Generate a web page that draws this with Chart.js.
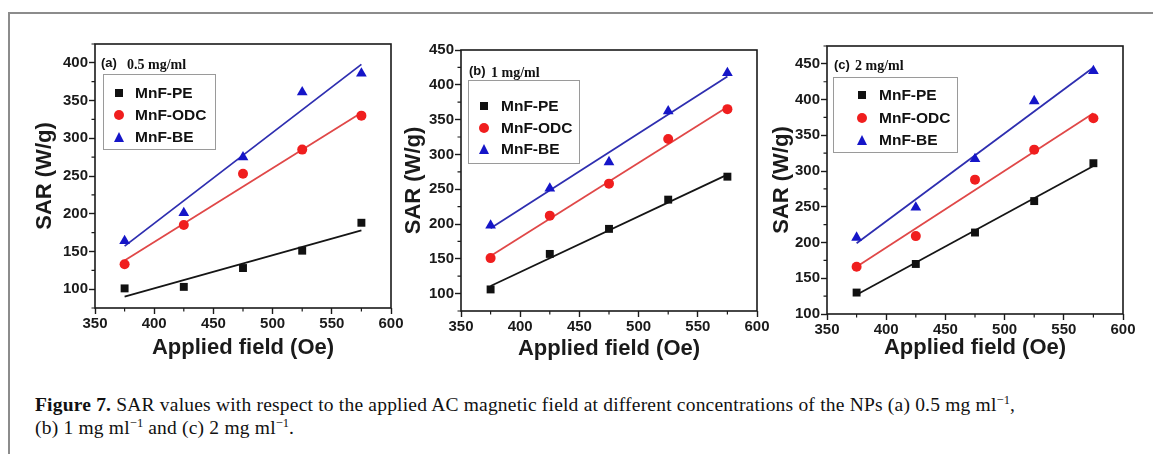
<!DOCTYPE html>
<html>
<head>
<meta charset="utf-8">
<script src="https://cdn.jsdelivr.net/npm/chart.js@4.4.1/dist/chart.umd.min.js"></script>
<style>
  body { margin: 0; background: #fff; width: 1153px; height: 454px; overflow: hidden; position: relative; font-family: "Liberation Sans", Arial, sans-serif; }
  #frame { position: absolute; left: 8px; top: 12px; width: 1150px; height: 450px; border-top: 2px solid #8c8c8c; border-left: 2px solid #8c8c8c; }
  canvas { position: absolute; }
  .legend { position: absolute; border: 1px solid #9a9a9a; background: #fff; }
  .entry { position: absolute; font: bold 15.5px "Liberation Sans", Arial, sans-serif; color: #111; line-height: 18px; }
  .mk { position: absolute; }
  .sq { width: 8px; height: 8px; background: #111; }
  .ci { width: 10px; height: 10px; border-radius: 50%; background: #f01e1e; }
  .tr { width: 0; height: 0; border-left: 5.5px solid transparent; border-right: 5.5px solid transparent; border-bottom: 10px solid #1515c8; }
  .tag { position: absolute; font: bold 13px "Liberation Sans", Arial, sans-serif; color: #111; }
  .conc { position: absolute; font: bold 14px "Liberation Serif", "Times New Roman", serif; color: #111; }
  #caption { position: absolute; left: 35px; top: 393px; font: 19.5px "Liberation Serif", "Times New Roman", serif; line-height: 23px; color: #111; letter-spacing: 0.2px; white-space: nowrap; }
  #caption sup { font-size: 12.5px; line-height: 0; letter-spacing: 0; }
</style>
</head>
<body>
<div id="frame"></div>
<div id="caption"><b>Figure 7.</b> SAR values with respect to the applied AC magnetic field at different concentrations of the NPs (a) 0.5 mg ml<sup>−1</sup>,<br>(b) 1 mg ml<sup>−1</sup> and (c) 2 mg ml<sup>−1</sup>.</div>
<script>
// applied field (Oe)
const fields = [375, 425, 475, 525, 575];
const fitFields = [375, 575];
const seriesNames = ['MnF-PE', 'MnF-ODC', 'MnF-BE'];

// (a) 0.5 mg/ml
const peA = [101, 103, 128, 151, 188];
const odcA = [133, 185, 253, 285, 330];
const beA = [164, 201, 275, 361, 386];
const peFitA = [90, 178];
const odcFitA = [138, 334];
const beFitA = [157, 398];

// (b) 1 mg/ml
const peB = [106, 157, 193, 235, 268];
const odcB = [151, 212, 258, 322, 365];
const beB = [198, 251, 289, 362, 417];
const peFitB = [111, 271];
const odcFitB = [154, 368];
const beFitB = [194, 412];

// (c) 2 mg/ml
const peC = [130, 170, 214, 258, 311];
const odcC = [166, 209, 288, 330, 374];
const beC = [207, 249, 317, 398, 440];
const peFitC = [127, 307];
const odcFitC = [166, 381];
const beFitC = [199, 445];

const xRange = [350, 600];
const yRangeA = [75, 425];
const yRangeB = [75, 450];
const yRangeC = [100, 475];

const colors = { pe: '#111111', odc: '#f01e1e', be: '#1515c8' };
const fitColors = { pe: '#151515', odc: '#e04848', be: '#2e2eb0' };

const panels = [
    { tag: '(a)', conc: '0.5 mg/ml', plot: { l: 95, r: 391, t: 44, b: 308 }, yTitleX: 46, xTitleY: 347,
      yRange: yRangeA, pts: [peA, odcA, beA], fits: [peFitA, odcFitA, beFitA],
      legend: { l: 103, t: 74, w: 111, h: 74, rows: [18, 40, 62], mx: 15, tx: 31 },
      tagPos: [101, 55], concPos: [127, 57] },
    { tag: '(b)', conc: '1 mg/ml', plot: { l: 461, r: 757, t: 50, b: 311 }, yTitleX: 415, xTitleY: 348,
      yRange: yRangeB, pts: [peB, odcB, beB], fits: [peFitB, odcFitB, beFitB],
      legend: { l: 468, t: 80, w: 110, h: 82, rows: [25, 47, 68], mx: 15, tx: 32 },
      tagPos: [469, 63], concPos: [491, 65] },
    { tag: '(c)', conc: '2 mg/ml', plot: { l: 827, r: 1123, t: 46, b: 314 }, yTitleX: 783, xTitleY: 347,
      yRange: yRangeC, pts: [peC, odcC, beC], fits: [peFitC, odcFitC, beFitC],
      legend: { l: 833, t: 77, w: 123, h: 74, rows: [17, 40, 62], mx: 28, tx: 45 },
      tagPos: [834, 57], concPos: [855, 58] }
];

// box round the plot and the short minor ticks
const framePlugin = {
    id: 'frame',
    afterDraw(chart) {
        const { ctx, chartArea: a, scales: { x, y } } = chart;
        ctx.save();
        ctx.strokeStyle = '#1a1a1a';
        ctx.lineWidth = 1.6;
        ctx.strokeRect(a.left, a.top, a.right - a.left, a.bottom - a.top);
        ctx.lineWidth = 1.2;
        ctx.beginPath();
        x.ticks.forEach(t => {
            if (t.value % 50 !== 0) {
                const px = x.getPixelForValue(t.value);
                ctx.moveTo(px, a.bottom); ctx.lineTo(px, a.bottom + 3.5);
            }
        });
        y.ticks.forEach(t => {
            if (t.value % 50 !== 0) {
                const py = y.getPixelForValue(t.value);
                ctx.moveTo(a.left, py); ctx.lineTo(a.left - 3.5, py);
            }
        });
        ctx.stroke();
        ctx.restore();
    }
};

function axisOpts(min, max, fixSize) {
    return {
        type: 'linear', min, max,
        afterFit: fixSize,
        border: { display: false },
        grid: {
            drawOnChartArea: false, drawTicks: true, tickLength: 6, tickWidth: 1.4,
            tickColor: c => (c.tick && c.tick.value % 50 === 0) ? '#1a1a1a' : 'rgba(0,0,0,0)'
        },
        ticks: {
            stepSize: 25, autoSkip: false, maxRotation: 0, padding: 1,
            color: '#1a1a1a', font: { family: '"Liberation Sans", Arial, sans-serif', size: 15, weight: 'bold' },
            callback: v => (v % 50 === 0 ? v : '')
        }
    };
}

function makePanel(p) {
    const L = Math.round(p.yTitleX - 14), R = p.plot.r + 20;
    const T = p.plot.t - 14, B = Math.round(p.xTitleY + 14);
    const canvas = document.createElement('canvas');
    canvas.width = R - L; canvas.height = B - T;
    canvas.style.left = L + 'px'; canvas.style.top = T + 'px';
    document.body.appendChild(canvas);

    const keys = ['pe', 'odc', 'be'];
    const shapes = ['rect', 'circle', 'triangle'];
    const radii = [5.6, 5, 6.2];
    const datasets = [];
    keys.forEach((k, i) => {
        datasets.push({
            label: seriesNames[i] + ' fit',
            data: fitFields.map((f, j) => ({ x: f, y: p.fits[i][j] })),
            showLine: true, borderColor: fitColors[k], borderWidth: 1.8,
            pointRadius: 0, order: 2
        });
    });
    keys.forEach((k, i) => {
        datasets.push({
            label: seriesNames[i],
            data: fields.map((f, j) => ({ x: f, y: p.pts[i][j] })),
            showLine: false, pointStyle: shapes[i], pointRadius: radii[i],
            backgroundColor: colors[k], borderColor: colors[k], borderWidth: 0, order: 1
        });
    });

    const titleFont = { family: '"Liberation Sans", Arial, sans-serif', size: 22, weight: 'bold', lineHeight: 1.2 };
    const xAxis = axisOpts(xRange[0], xRange[1], s => { s.height = B - p.plot.b; });
    xAxis.title = { display: true, text: 'Applied field (Oe)', color: '#1a1a1a', font: titleFont, padding: 0 };
    const yAxis = axisOpts(p.yRange[0], p.yRange[1], s => { s.width = p.plot.l - L; });
    yAxis.title = { display: true, text: 'SAR (W/g)', color: '#1a1a1a', font: titleFont, padding: 0 };

    new Chart(canvas, {
        type: 'scatter',
        data: { datasets },
        options: {
            responsive: false, animation: false, devicePixelRatio: 1,
            layout: { padding: { left: 0, right: R - p.plot.r, top: p.plot.t - T, bottom: 0 } },
            plugins: { legend: { display: false }, tooltip: { enabled: false } },
            scales: { x: xAxis, y: yAxis }
        },
        plugins: [framePlugin]
    });

    // legend box and panel labels
    const lg = document.createElement('div');
    lg.className = 'legend';
    lg.style.cssText = `left:${p.legend.l}px;top:${p.legend.t}px;width:${p.legend.w}px;height:${p.legend.h}px`;
    const mkClass = ['sq', 'ci', 'tr'];
    const mkSize = [[8, 8], [10, 10], [11, 10]];
    seriesNames.forEach((name, i) => {
        const cy = p.legend.rows[i];
        const m = document.createElement('div');
        m.className = 'mk ' + mkClass[i];
        m.style.left = (p.legend.mx - mkSize[i][0] / 2) + 'px';
        m.style.top = (cy - mkSize[i][1] / 2) + 'px';
        lg.appendChild(m);
        const e = document.createElement('div');
        e.className = 'entry';
        e.textContent = name;
        e.style.left = p.legend.tx + 'px';
        e.style.top = (cy - 9) + 'px';
        lg.appendChild(e);
    });
    document.body.appendChild(lg);

    const tag = document.createElement('div');
    tag.className = 'tag'; tag.textContent = p.tag;
    tag.style.left = p.tagPos[0] + 'px'; tag.style.top = p.tagPos[1] + 'px';
    document.body.appendChild(tag);
    const conc = document.createElement('div');
    conc.className = 'conc'; conc.textContent = p.conc;
    conc.style.left = p.concPos[0] + 'px'; conc.style.top = p.concPos[1] + 'px';
    document.body.appendChild(conc);
}

panels.forEach(makePanel);
</script>
</body>
</html>
